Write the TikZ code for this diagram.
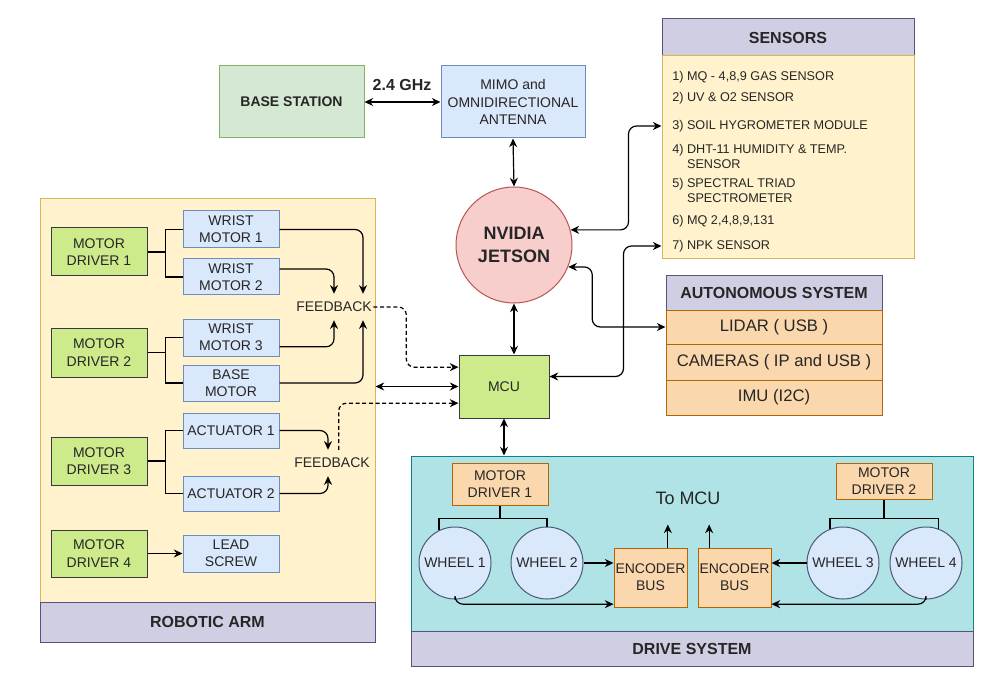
\documentclass[tikz,border=0pt]{standalone}
\usepackage{fontspec}
\setmainfont{Liberation Sans}
\usetikzlibrary{arrows.meta}

\definecolor{greenF}{HTML}{D5E8D4}\definecolor{greenD}{HTML}{82B366}
\definecolor{blueF}{HTML}{DAE8FC}\definecolor{blueD}{HTML}{6C8EBF}
\definecolor{limeF}{HTML}{CDEB8B}\definecolor{limeD}{HTML}{36393D}
\definecolor{yellowF}{HTML}{FFF2CC}\definecolor{yellowD}{HTML}{D6B656}
\definecolor{purpleF}{HTML}{D0CEE2}\definecolor{purpleD}{HTML}{56517E}
\definecolor{redF}{HTML}{F8CECC}\definecolor{redD}{HTML}{B85450}
\definecolor{orangeF}{HTML}{FAD7AC}\definecolor{orangeD}{HTML}{B46504}
\definecolor{tealF}{HTML}{B0E3E6}\definecolor{tealD}{HTML}{0E8088}
\definecolor{wheelD}{HTML}{4A5A7A}

\tikzset{
  cell/.style={draw, line width=0.75pt, inner sep=0pt, align=center,
    text=black!85, font=\fontsize{10.5}{13}\selectfont},
  wh/.style 2 args={minimum width=#1*0.75pt, minimum height=#2*0.75pt},
  greenbox/.style={cell, fill=greenF, draw=greenD},
  bluebox/.style={cell, fill=blueF, draw=blueD},
  limebox/.style={cell, fill=limeF, draw=limeD},
  yellowbox/.style={cell, fill=yellowF, draw=yellowD},
  purplebox/.style={cell, fill=purpleF, draw=purpleD},
  orangebox/.style={cell, fill=orangeF, draw=orangeD},
  tealbox/.style={cell, fill=tealF, draw=tealD},
  wheel/.style={cell, circle, fill=blueF, draw=wheelD, minimum size=72*0.75pt},
  hdr/.style={font=\bfseries\fontsize{12}{14}\selectfont},
  bigtxt/.style={font=\fontsize{12.5}{15}\selectfont},
  sitem/.style={anchor=west, inner sep=0pt, align=left, text=black!85,
    font=\fontsize{9.5}{11.5}\selectfont},
  fbtxt/.style={inner xsep=1pt, inner ysep=6pt, text=black!85,
    font=\fontsize{10.5}{13}\selectfont},
  wire/.style={line width=0.9pt},
  conn/.style={wire, rounded corners=6pt},
  fbline/.style={conn, dashed, dash pattern=on 3pt off 2pt}
}

\begin{document}
\begin{tikzpicture}[x=0.75pt,y=0.75pt,yscale=-1,xscale=1,
  >={Stealth[length=6.5pt,width=6pt]}]
\useasboundingbox (0,0) rectangle (992,677);
% note: y axis runs down, so yshift below is flipped too

% Containers
\node[yellowbox, wh={335}{403}] (arm) at (207.5,400.5) {};
\node[purplebox, hdr, wh={335}{40}] (armlbl) at (207.5,622) {ROBOTIC ARM};
\node[tealbox, wh={562}{175}] (drv) at (692,543.5) {};
\node[purplebox, hdr, wh={562}{35}] (drvlbl) at (692,648.5) {DRIVE SYSTEM};
\node[purplebox, hdr, wh={252}{37}] (senslbl) at (788,37.5) {SENSORS};
\node[yellowbox, wh={252}{203}] (sens) at (788,157.5) {};

% Sensors list
\node[sitem] (s1) at (672,77) {1) MQ - 4,8,9 GAS SENSOR};
\node[sitem] (s2) at (672,98) {2) UV \& O2 SENSOR};
\node[sitem] (s3) at (672,126) {3) SOIL HYGROMETER MODULE};
\node[sitem] (s4) at (672,157.5) {4) DHT-11 HUMIDITY \& TEMP.\\\phantom{4) }SENSOR};
\node[sitem] (s5) at (672,192) {5) SPECTRAL TRIAD\\\phantom{5) }SPECTROMETER};
\node[sitem] (s6) at (672,221) {6) MQ 2,4,8,9,131};
\node[sitem] (s7) at (672,246) {7) NPK SENSOR};

% Autonomous system
\node[purplebox, hdr, wh={216}{34}] (autolbl) at (774,293) {AUTONOMOUS SYSTEM};
\node[orangebox, bigtxt, wh={216}{34}] (lidar) at (774,327) {LIDAR ( USB )};
\node[orangebox, bigtxt, wh={216}{36}] (cams) at (774,362) {CAMERAS ( IP and USB )};
\node[orangebox, bigtxt, wh={216}{35}] (imu) at (774,397.5) {IMU (I2C)};

% Main blocks
\node[greenbox, font=\bfseries\fontsize{10.5}{13}\selectfont, wh={145}{72}] (base) at (291.5,102) {BASE STATION};
\node[bluebox, wh={144}{72}] (ant) at (513,102) {MIMO and\\OMNIDIRECTIONAL\\ANTENNA};
\node[text=black!85, font=\bfseries\fontsize{12}{14}\selectfont] (ghz) at (402,85) {2.4 GHz};
\node[cell, circle, fill=redF, draw=redD, minimum size=116*0.75pt,
  font=\bfseries\fontsize{13.5}{17}\selectfont] (jet) at (514,245) {NVIDIA\\JETSON};
\node[limebox, wh={90}{63}] (mcu) at (504,386.5) {MCU};

% Robotic arm
\node[limebox, wh={96}{48}] (md1) at (99,252) {MOTOR\\DRIVER 1};
\node[bluebox, wh={96}{37}] (wm1) at (231,229.5) {WRIST\\MOTOR 1};
\node[bluebox, wh={96}{36}] (wm2) at (231,277) {WRIST\\MOTOR 2};
\node[limebox, wh={96}{49}] (md2) at (99,352.5) {MOTOR\\DRIVER 2};
\node[bluebox, wh={96}{37}] (wm3) at (231,337.5) {WRIST\\MOTOR 3};
\node[bluebox, wh={96}{36}] (bm) at (231,383) {BASE\\MOTOR};
\node[limebox, wh={96}{48}] (md3) at (99,461) {MOTOR\\DRIVER 3};
\node[bluebox, wh={96}{35}] (act1) at (231,430.5) {ACTUATOR 1};
\node[bluebox, wh={96}{35}] (act2) at (231,493.5) {ACTUATOR 2};
\node[limebox, wh={96}{47}] (md4) at (99,553.5) {MOTOR\\DRIVER 4};
\node[bluebox, wh={96}{37}] (lead) at (231,553.5) {LEAD\\SCREW};
\node[fbtxt] (fbA) at (334,307) {FEEDBACK};
\node[fbtxt] (fbB) at (332,463) {FEEDBACK};

% Drive system
\node[orangebox, wh={96}{42}] (dmd1) at (500,484) {MOTOR\\DRIVER 1};
\node[orangebox, wh={96}{36}] (dmd2) at (884,481) {MOTOR\\DRIVER 2};
\node[wheel] (w1) at (455,563) {WHEEL 1};
\node[wheel] (w2) at (547,563) {WHEEL 2};
\node[wheel] (w3) at (843,563) {WHEEL 3};
\node[wheel] (w4) at (926,563) {WHEEL 4};
\node[orangebox, wh={73}{59}] (enc1) at (650.5,577.5) {ENCODER\\BUS};
\node[orangebox, wh={73}{59}] (enc2) at (734.5,577.5) {ENCODER\\BUS};
\node[text=black!85, font=\fontsize{13.5}{16}\selectfont] (tomcu) at (688,498) {To MCU};

% Top links
\draw[conn, <->] (base) -- (ant);
\draw[conn, <->] (ant.south) -- (jet.north);
\draw[conn, <->] (jet.south) -- (jet.south |- mcu.north);
\draw[conn, <->] (mcu.south) -- (mcu.south |- drv.north);
\draw[conn, <->] (jet.15) -- ++(58,0) |- (s3.west -| sens.west);
\draw[conn, <->] ([yshift=-7.5pt]mcu.east) -- ++(74,0) |- (s7.west -| sens.west);
\draw[conn, <->] (jet.-22) -- ++(24,0) |- (lidar.west);

% Arm wiring
\draw[wire] (md1.east) -- ++(18,0) |- (wm1.west);
\draw[wire] (md1.east) ++(18,0) |- (wm2.west);
\draw[wire] (md2.east) -- ++(18,0) |- (wm3.west);
\draw[wire] (md2.east) ++(18,0) |- (bm.west);
\draw[wire] (md3.east) -- ++(18,0) |- (act1.west);
\draw[wire] (md3.east) ++(18,0) |- (act2.west);
\draw[wire, ->] (md4) -- (lead);

% Feedback
\draw[conn, ->] (wm1.east) -| (fbA.north -| 363,0);
\draw[conn, ->] ([yshift=-6pt]wm2.east) -| (fbA.north);
\draw[conn, ->] ([yshift=7pt]wm3.east) -| (fbA.south);
\draw[conn, ->] (bm.east) -| (fbA.south -| 363,0);
\draw[conn, ->] (act1.east) -| ([xshift=-3pt]fbB.north);
\draw[conn, ->] (act2.east) -| ([xshift=-3pt]fbB.south);
\draw[fbline, ->] (fbA.east) -- ++(33,0) |- ([yshift=-14.5pt]mcu.west);
\draw[fbline, ->] ([xshift=5pt]fbB.north) |- ([yshift=12.5pt]mcu.west);
\draw[conn, <->] (mcu.west -| arm.east) -- (mcu.west);

% Drive wiring
\draw[wire] (dmd1.south) -- ++(0,13) -| (w1.116);
\draw[wire] (dmd1.south) ++(0,13) -| (w2.north);
\draw[wire] (dmd2.south) -- ++(0,19) -| (w3.111);
\draw[wire] (dmd2.south) ++(0,19) -| (w4.70);
\draw[conn, ->] (w2.east) -- (w2.east -| enc1.west);
\draw[conn, ->] (w1.south) |- ([yshift=20pt]enc1.west);
\draw[conn, ->] (w3.west) -- (w3.west -| enc2.east);
\draw[conn, ->] (w4.south) |- ([yshift=20pt]enc2.east);
\draw[conn, ->] ([xshift=13pt]enc1.north) -- ++(0,-23);
\draw[conn, ->] ([xshift=-19pt]enc2.north) -- ++(0,-23);
\end{tikzpicture}
\end{document}
